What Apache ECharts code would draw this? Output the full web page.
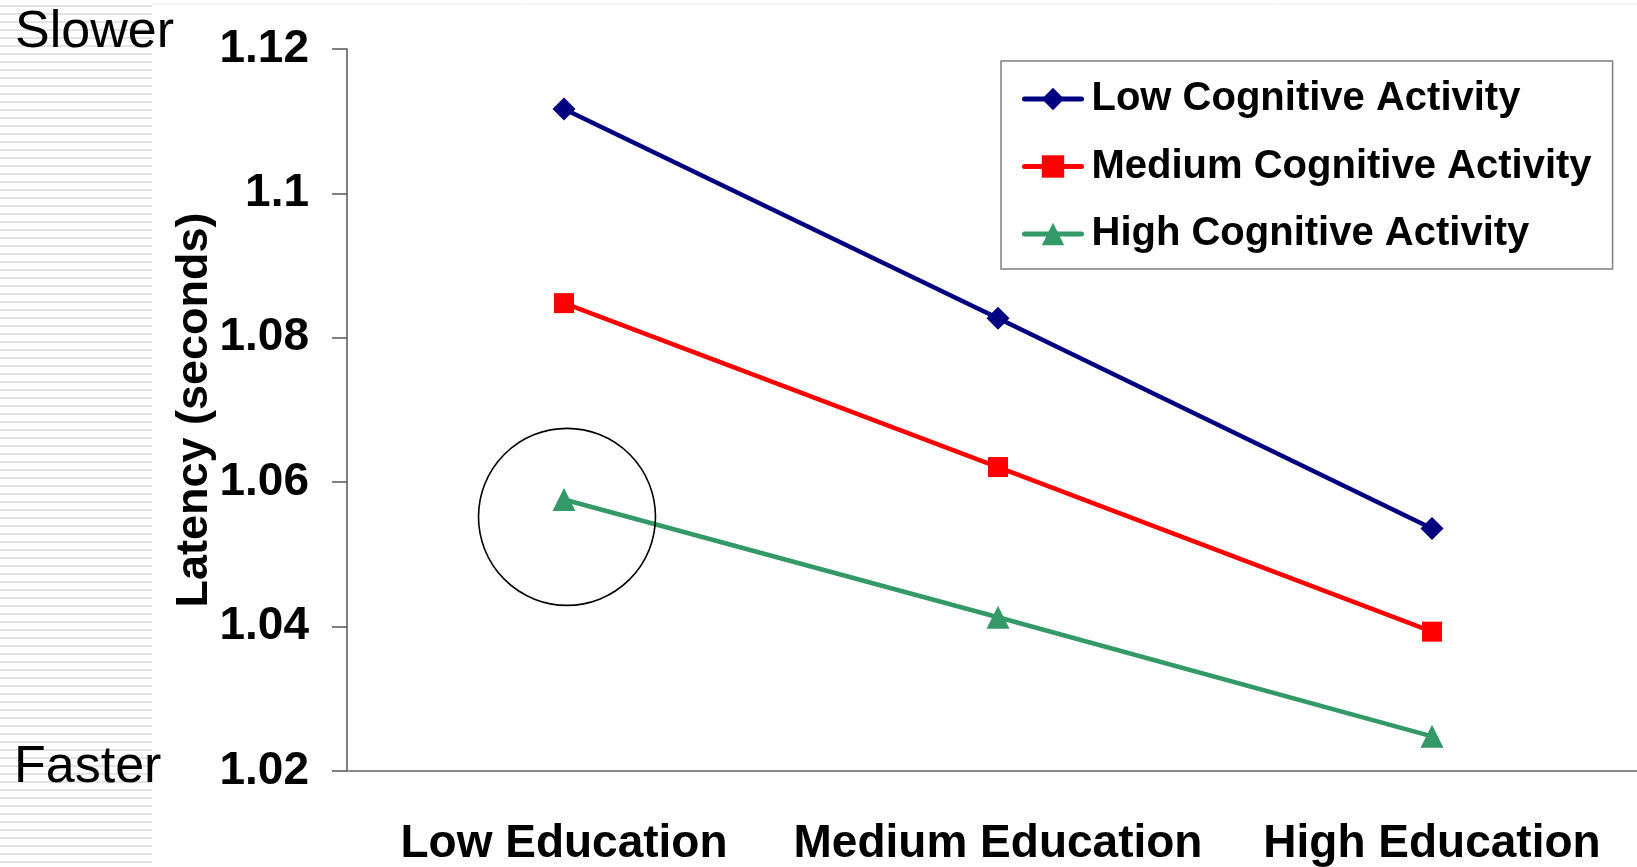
<!DOCTYPE html>
<html>
<head>
<meta charset="utf-8">
<script src="https://cdn.jsdelivr.net/npm/echarts@6/dist/echarts.min.js"></script>
<style>
  html, body { margin: 0; padding: 0; background: #fff; overflow: hidden; }
  /* plot runs slightly past the right window edge, like the original slide */
  #chart { width: 1650px; height: 867px; }
</style>
</head>
<body>
<div id="chart"></div>
<script>
// categories along the x axis
var educationLevels = ['Low Education', 'Medium Education', 'High Education'];

// latency (seconds) per cognitive activity group
var lowActivity = [1.1117, 1.0827, 1.0536];
var mediumActivity = [1.0848, 1.0621, 1.0393];
var highActivity = [1.0576, 1.0413, 1.0248];

var seriesNames = ['Low Cognitive Activity', 'Medium Cognitive Activity', 'High Cognitive Activity'];

var FONT = '"Liberation Sans", Arial, sans-serif';

var chart = echarts.init(document.getElementById('chart'));

// striped band on the left side of the slide
var stripes = [];
for (var y = 6; y < 870; y += 8) {
    stripes.push({
        type: 'line',
        silent: true,
        z: -10,
        shape: { x1: 0, y1: y, x2: 152, y2: y },
        style: { stroke: '#dadada', lineWidth: 1.5 }
    });
}

var option = {
    backgroundColor: '#ffffff',
    animation: false,
    grid: {
        left: 347,
        top: 49,
        width: 1302,
        height: 722,
        containLabel: false
    },
    legend: {
        orient: 'vertical',
        left: 1001,
        top: 61,
        padding: [15, 21, 12, 21],
        itemGap: 21.5,
        itemWidth: 57,
        itemHeight: 28,
        borderColor: '#808080',
        borderWidth: 1.5,
        backgroundColor: '#fff',
        lineStyle: { width: 5, cap: 'round' },
        textStyle: {
            fontFamily: FONT,
            fontWeight: 'bold',
            fontSize: 40,
            lineHeight: 46,
            color: '#000',
            padding: [0, 0, 0, 5]
        },
        data: seriesNames
    },
    xAxis: {
        type: 'category',
        data: educationLevels,
        boundaryGap: true,
        axisLine: { show: true, lineStyle: { color: '#8a8a8a', width: 2 } },
        axisTick: { show: false },
        axisLabel: {
            interval: 0,
            margin: 50,
            fontFamily: FONT,
            fontWeight: 'bold',
            fontSize: 46,
            color: '#000'
        },
        splitLine: { show: false }
    },
    yAxis: {
        type: 'value',
        min: 1.02,
        max: 1.12,
        interval: 0.02,
        name: 'Latency (seconds)',
        nameLocation: 'middle',
        nameGap: 130,
        nameMoveOverlap: false,
        nameTextStyle: {
            fontFamily: FONT,
            fontWeight: 'bold',
            fontSize: 45,
            color: '#000'
        },
        axisLine: { show: true, lineStyle: { color: '#555', width: 1.5 } },
        axisTick: { show: true, inside: false, length: 15, lineStyle: { color: '#555', width: 1.5 } },
        axisLabel: {
            margin: 38,
            fontFamily: FONT,
            fontWeight: 'bold',
            fontSize: 46,
            color: '#000',
            formatter: function (v) { return String(parseFloat(v.toFixed(2))); }
        },
        splitLine: { show: false }
    },
    series: [
        {
            name: seriesNames[0],
            type: 'line',
            data: lowActivity,
            symbol: 'diamond',
            symbolSize: 23,
            lineStyle: { color: '#000080', width: 4.5 },
            itemStyle: { color: '#000080' }
        },
        {
            name: seriesNames[1],
            type: 'line',
            data: mediumActivity,
            symbol: 'rect',
            symbolSize: 20,
            lineStyle: { color: '#ff0000', width: 4.5 },
            itemStyle: { color: '#ff0000' }
        },
        {
            name: seriesNames[2],
            type: 'line',
            data: highActivity,
            symbol: 'triangle',
            symbolSize: 23,
            lineStyle: { color: '#339966', width: 4.5 },
            itemStyle: { color: '#339966' },
            // circle drawn round the low-education point
            markPoint: {
                silent: true,
                symbol: 'circle',
                symbolSize: 177,
                symbolOffset: [3, 0],
                label: { show: false },
                itemStyle: { color: 'rgba(0,0,0,0)', borderColor: '#000', borderWidth: 1.6 },
                data: [{ coord: ['Low Education', 1.0552] }]
            }
        }
    ],
    graphic: stripes.concat([
        {
            type: 'line',
            silent: true,
            shape: { x1: 152, y1: 4, x2: 1650, y2: 4 },
            style: { stroke: '#ececec', lineWidth: 1 }
        },
        {
            type: 'text',
            x: 15,
            y: 33,
            style: { text: 'Slower', fontFamily: FONT, fontSize: 52, fill: '#000', verticalAlign: 'middle' }
        },
        {
            type: 'text',
            x: 14,
            y: 768,
            style: { text: 'Faster', fontFamily: FONT, fontSize: 52, fill: '#000', verticalAlign: 'middle' }
        }
    ])
};

chart.setOption(option);
</script>
</body>
</html>
